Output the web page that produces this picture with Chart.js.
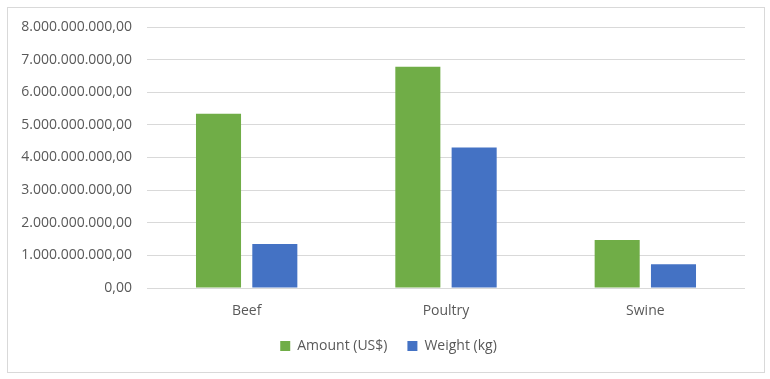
<!DOCTYPE html>
<html>
<head>
<meta charset="utf-8">
<script src="https://cdn.jsdelivr.net/npm/chart.js@4/dist/chart.umd.min.js"></script>
<style>
  html, body { margin: 0; padding: 0; background: #ffffff; }
  #frame { position: absolute; left: 7px; top: 7px; width: 756px; height: 364px; border: 1px solid #d9d9d9; }
  #wrap { position: absolute; left: 0; top: 0; width: 770px; height: 379px; }
</style>
</head>
<body>
<div id="frame"></div>
<div id="wrap"><canvas id="c" width="770" height="379"></canvas></div>
<script>
const categories = ["Beef", "Poultry", "Swine"];
const amountUSD = [5340000000, 6780000000, 1470000000];
const weightKg = [1350000000, 4310000000, 730000000];
const seriesNames = ["Amount (US$)", "Weight (kg)"];
const yTicks = [0, 1e9, 2e9, 3e9, 4e9, 5e9, 6e9, 7e9, 8e9];

function fmt(v) {
  const s = Math.round(v).toString();
  const parts = [];
  for (let i = s.length; i > 0; i -= 3) parts.unshift(s.substring(Math.max(0, i - 3), i));
  return parts.join('.') + ',00';
}

const FONT = "'Open Sans', sans-serif";
const TXT = '#595959';

const legendFix = {
  id: 'legendFix',
  afterInit(chart) {
    const lg = chart.legend;
    if (!lg) return;
    const orig = lg.fit;
    lg.fit = function () { orig.call(this); this.height = 40; };
  },
  afterLayout(chart) {
    const lg = chart.legend;
    if (!lg) return;
    lg.left += 16;
    lg.right += 16;
  }
};

new Chart(document.getElementById('c'), {
  type: 'bar',
  data: {
    labels: categories,
    datasets: [
      { label: seriesNames[0], data: amountUSD, backgroundColor: '#70ad47', categoryPercentage: 0.565, barPercentage: 0.8 },
      { label: seriesNames[1], data: weightKg, backgroundColor: '#4472c4', categoryPercentage: 0.565, barPercentage: 0.8 }
    ]
  },
  plugins: [legendFix],
  options: {
    responsive: false,
    animation: false,
    layout: { padding: { top: 27, right: 25, left: 0, bottom: 20 } },
    plugins: {
      tooltip: { enabled: false },
      legend: {
        position: 'bottom',
        labels: { font: { family: FONT, size: 14 }, color: TXT, boxWidth: 10, boxHeight: 10, padding: 20 }
      }
    },
    scales: {
      x: {
        afterFit: (s) => { s.height = 31; },
        grid: { display: false, drawTicks: false, tickLength: 0 },
        border: { display: false },
        ticks: { font: { family: FONT, size: 14 }, color: TXT, padding: 15 }
      },
      y: {
        min: 0, max: 8e9,
        afterBuildTicks: (s) => { s.ticks = yTicks.map(v => ({ value: v })); },
        afterFit: (s) => { s.width = 147; },
        grid: { color: '#d9d9d9', drawTicks: false },
        border: { display: false },
        ticks: { font: { family: FONT, size: 14 }, color: TXT, padding: 15, callback: (v) => fmt(v) }
      }
    }
  }
});
</script>
</body>
</html>
